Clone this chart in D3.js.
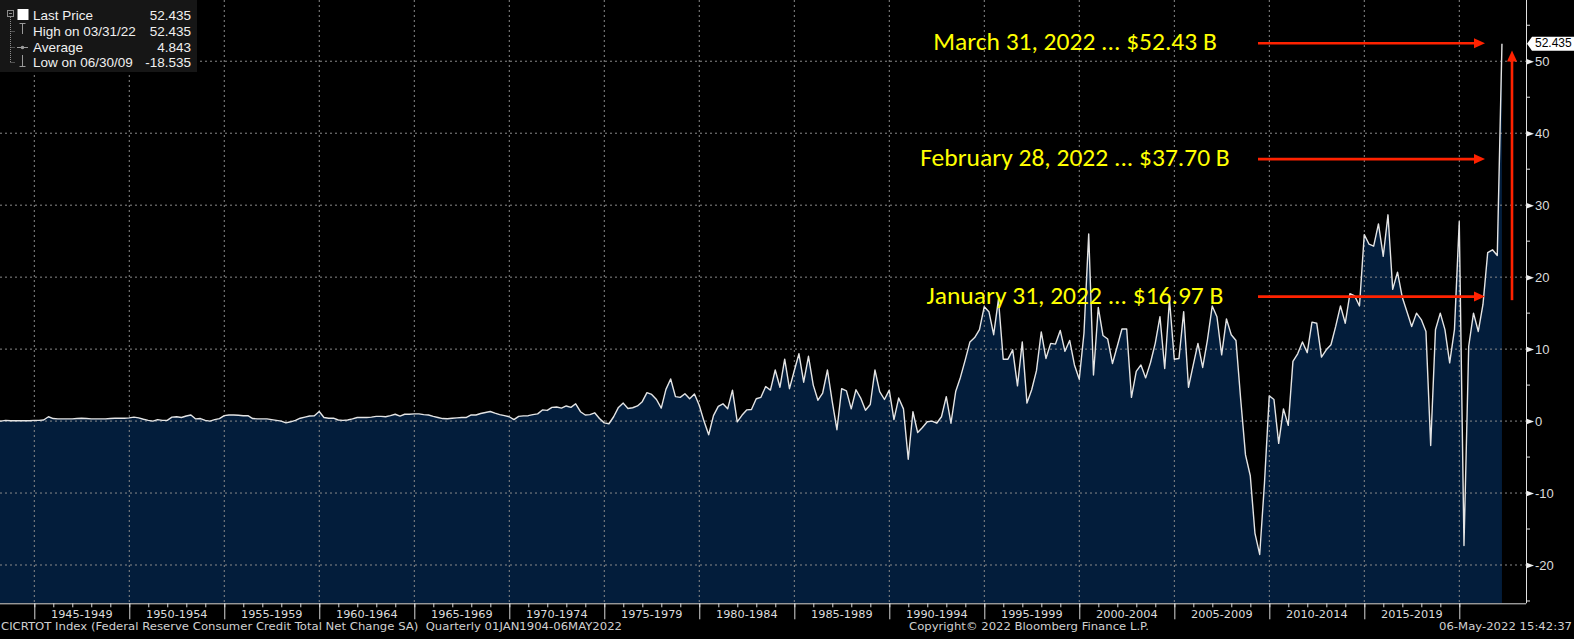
<!DOCTYPE html>
<html><head><meta charset="utf-8">
<script src="https://cdn.jsdelivr.net/npm/d3@7"></script>
<style>
html,body{margin:0;padding:0;background:#000;overflow:hidden}
svg{display:block}
.dv{font-family:"DejaVu Sans",Verdana,sans-serif}
.reg{font-family:"Liberation Sans",Arial,sans-serif}
</style></head><body>
<svg id="c" width="1574" height="639"></svg>
<script>
// ---------------- DATA (quarterly, value at quarter end, $ billions) ----------------
const firstYear = 1942, firstQuarter = 4;
const v1940s = [0.05,
  0.0,0.1,0.05,0.05, 0.05,0.05,0.05,0.1, 0.1,0.15,0.6,0.35, 0.3,0.3,0.3,0.3,
  0.35,0.4,0.35,0.3, 0.3,0.3,0.3,0.35, 0.4,0.4,0.4,0.45];
const v1950s = [0.55,0.45,0.25,0.1, 0.0,0.2,0.1,0.1, 0.55,0.6,0.5,0.7, 0.85,0.3,0.35,0.1,
  0.0,0.2,0.35,0.75, 0.85,0.85,0.8,0.75, 0.75,0.35,0.3,0.3, 0.3,0.2,0.1,0.0,
  -0.25,-0.1,0.1,0.4, 0.55,0.7,0.75,1.33];
const v1960s = [0.5,0.4,0.4,0.15, 0.1,0.15,0.3,0.5, 0.5,0.5,0.55,0.65, 0.65,0.6,0.75,0.95,
  0.7,0.95,0.95,1.0, 1.0,0.9,0.85,0.65, 0.5,0.35,0.32,0.4, 0.45,0.5,0.5,0.85,
  0.85,1.05,1.2,1.33, 1.1,0.9,0.75,0.6];
const v1970s = [0.2,0.65,0.72,0.75, 0.9,1.0,1.55,1.48, 1.9,1.95,1.8,2.1, 1.9,2.4,1.3,0.85,
  0.9,1.15,0.35,-0.25, -0.37,0.6,1.9,2.5, 1.75,1.85,2.1,2.7, 3.95,3.7,3.0,1.8,
  4.4,5.85,3.4,3.3, 3.8,3.1,3.75,2.2];
const v1980s = [0.0,-1.9,0.75,2.05, 2.4,1.7,4.3,-0.1, 0.8,1.55,1.6,3.1, 3.3,4.8,4.3,7.1,
  4.7,8.6,4.5,7.0, 9.35,5.4,9.0,5.0, 2.9,3.9,7.1,2.7, -1.2,4.5,4.2,1.7,
  4.35,3.2,1.5,2.3, 7.1,4.1,3.0,4.3];
const v1990s = [0.2,3.2,1.7,-5.3, 1.3,-1.6,-0.9,-0.1, 0.0,-0.3,0.6,3.4, -0.3,4.1,6.1,8.5,
  11.0,11.6,12.7,15.9, 15.2,12.0,16.9,8.6, 8.6,9.9,4.9,11.0, 2.5,4.35,7.0,12.4,
  8.7,10.8,10.7,12.6, 9.7,11.2,7.8,5.8];
const v2000s = [12.2,26.0,6.4,15.8, 11.9,11.4,8.0,10.4, 12.8,12.8,3.3,6.9, 7.8,6.0,8.1,10.8,
  14.5,7.3,16.85,8.6, 8.7,15.2,4.7,7.8, 10.8,7.45,11.3,16.0, 14.5,9.2,14.2,12.0,
  11.2,3.0,-4.7,-7.6, -15.6,-18.535,-8.6,3.5];
const v2010s = [3.0,-3.1,1.7,-0.6, 8.3,9.35,11.0,9.5, 13.75,13.6,8.9,9.9, 10.6,13.15,16.0,13.6,
  17.7,17.4,16.0,25.9, 24.6,24.3,27.4,22.9, 28.66,18.3,20.7,17.2, 15.2,13.15,15.0,14.1,
  12.45,-3.4,12.7,15.0, 12.7,8.1,12.7,27.7];
const v2020s = [-17.3,10.4,15.0,12.45, 16.2,23.4,23.8,23.0, 52.435];

const periodStarts = [1945,1950,1955,1960,1965,1970,1975,1980,1985,1990,1995,2000,2005,2010,2015];
const periodLabels = ["1945-1949","1950-1954","1955-1959","1960-1964","1965-1969","1970-1974","1975-1979",
  "1980-1984","1985-1989","1990-1994","1995-1999","2000-2004","2005-2009","2010-2014","2015-2019"];
const gridYears = [1945,1950,1955,1960,1965,1970,1975,1980,1985,1990,1995,2000,2005,2010,2015,2020];
const yMajorTicks = [-20,-10,0,10,20,30,40,50];
const yMinorTicks = [-25,-15,-5,5,15,25,35,45,55];

const legendLabels = ["Last Price","High on 03/31/22","Average","Low on 06/30/09"];
const legendValues = ["52.435","52.435","4.843","-18.535"];
const lastPriceLabel = "52.435";

const annotTexts = ["March 31, 2022 ... $52.43 B","February 28, 2022 ... $37.70 B","January 31, 2022 ... $16.97 B"];
const annotLevels = [52.5, 36.4, 17.3];      // arrow heights, data units
const riseArrow = [16.8, 51.5];              // vertical arrow from / to, data units

const footerLeft = "CICRTOT Index (Federal Reserve Consumer Credit Total Net Change SA)  Quarterly 01JAN1904-06MAY2022";
const footerMid = "Copyright\u00A9 2022 Bloomberg Finance L.P.";
const footerRight = "06-May-2022 15:42:37";

// ---------------- BUILD ----------------
const values = [].concat(v1940s,v1950s,v1960s,v1970s,v1980s,v1990s,v2000s,v2010s,v2020s);
const data = values.map((v,i)=>{
  const qi = (firstQuarter-1)+i;
  const yr = firstYear + Math.floor(qi/4), q = qi%4 + 1;
  return {date:new Date(Date.UTC(yr, q*3, 0)), value:v};
});

const svg = d3.select("#c");
const P = {left:0, right:1526, top:0, bottom:603.3};
const x = d3.scaleUtc().domain([new Date(Date.UTC(1945,0,1)), new Date(Date.UTC(2020,0,1))]).range([34.3,1459.3]);
const y = d3.scaleLinear().domain([-25.32,58.51]).range([P.bottom,P.top]);
const yr = v => x(new Date(Date.UTC(v,0,1)));

svg.append("rect").attr("width",1574).attr("height",639).attr("fill","#000");
svg.append("defs").append("clipPath").attr("id","plotclip").append("rect")
  .attr("x",P.left).attr("y",P.top).attr("width",P.right-P.left).attr("height",P.bottom-P.top);

const g = svg.append("g").attr("clip-path","url(#plotclip)");
g.append("path").datum(data)
  .attr("d", d3.area().x(d=>x(d.date)).y0(P.bottom).y1(d=>y(d.value)))
  .attr("fill","#031d3b");

// grid
g.selectAll(".hg").data(yMajorTicks).join("line")
  .attr("x1",P.left).attr("x2",P.right).attr("y1",d=>y(d)).attr("y2",d=>y(d))
  .attr("stroke","#8a8a8a").attr("stroke-width",1).attr("stroke-dasharray","2,3");
g.selectAll(".vg").data(gridYears).join("line")
  .attr("x1",d=>yr(d)).attr("x2",d=>yr(d)).attr("y1",P.top).attr("y2",P.bottom)
  .attr("stroke","#8a8a8a").attr("stroke-width",1).attr("stroke-dasharray","2,3");

g.append("path").datum(data)
  .attr("d", d3.line().x(d=>x(d.date)).y(d=>y(d.value)))
  .attr("fill","none").attr("stroke","#e4e4e4").attr("stroke-width",1.4).attr("stroke-linejoin","round");

// right axis
const ax = svg.append("g").attr("transform",`translate(${P.right},0)`)
  .call(d3.axisRight(y).tickValues(yMajorTicks).tickSize(0).tickPadding(9).tickFormat(d3.format("d")));
ax.select(".domain").remove();
ax.selectAll("text").attr("class","reg").attr("fill","#dcdcdc").style("font-size","13px").attr("dy","0.35em")
  .text(d=>String(d));
ax.selectAll(".tick").append("path").attr("d","M0,-3 L8,0 L0,3 Z").attr("fill","#eeeeee");
svg.append("line").attr("x1",P.right+0.5).attr("x2",P.right+0.5).attr("y1",0).attr("y2",P.bottom)
  .attr("stroke","#e0e0e0").attr("stroke-width",1);
svg.selectAll(".ymin").data(yMinorTicks).join("line")
  .attr("x1",P.right).attr("x2",P.right+4).attr("y1",d=>y(d)).attr("y2",d=>y(d))
  .attr("stroke","#e0e0e0");

// bottom axis
svg.append("line").attr("x1",P.left).attr("x2",P.right).attr("y1",P.bottom+0.5).attr("y2",P.bottom+0.5)
  .attr("stroke","#d8d8d8");
const xa = svg.append("g").attr("transform",`translate(0,${P.bottom})`)
  .call(d3.axisBottom(x).ticks(d3.utcYear.every(1)).tickSize(4).tickFormat(""));
xa.select(".domain").remove();
xa.selectAll(".tick line").attr("stroke","#d8d8d8");
svg.selectAll(".maj").data(gridYears).join("line")
  .attr("x1",d=>yr(d)+0.5).attr("x2",d=>yr(d)+0.5).attr("y1",P.bottom).attr("y2",P.bottom+16)
  .attr("stroke","#d8d8d8");
svg.selectAll(".plab").data(periodLabels).join("text")
  .attr("class","dv")
  .attr("x",(d,i)=>(yr(periodStarts[i])+yr(periodStarts[i]+5))/2)
  .attr("y",617.5).attr("text-anchor","middle")
  .attr("fill","#dcdcdc").style("font-size","11.3px").text(d=>d);

// footer
const ft = svg.append("g").attr("class","dv").style("font-size","11.3px").attr("fill","#d0d0d0");
ft.append("text").attr("x",1).attr("y",630).attr("xml:space","preserve").style("white-space","pre")
  .attr("textLength",621).attr("lengthAdjust","spacingAndGlyphs").text(footerLeft);
ft.append("text").attr("x",909).attr("y",630)
  .attr("textLength",240).attr("lengthAdjust","spacingAndGlyphs").text(footerMid);
ft.append("text").attr("x",1439).attr("y",630)
  .attr("textLength",133).attr("lengthAdjust","spacingAndGlyphs").text(footerRight);

// last price tag
const ly = y(values[values.length-1]);
svg.append("path").attr("d",`M${P.right+1},${ly} L${P.right+6},${ly-7} L1574,${ly-7} L1574,${ly+7} L${P.right+6},${ly+7} Z`)
  .attr("fill","#ffffff");
svg.append("text").attr("class","reg").attr("x",P.right+9).attr("y",ly).attr("dominant-baseline","middle")
  .style("font-size","12px").attr("fill","#000").text(lastPriceLabel);

// legend
const lg = svg.append("g");
lg.append("rect").attr("x",0).attr("y",0).attr("width",197).attr("height",72).attr("fill","#161616");
const rowY = [15,31,47,62];
lg.append("rect").attr("x",7.5).attr("y",10.5).attr("width",6).attr("height",6).attr("fill","none").attr("stroke","#8c8c8c");
lg.append("line").attr("x1",9).attr("x2",12).attr("y1",13.5).attr("y2",13.5).attr("stroke","#8c8c8c");
lg.append("line").attr("x1",10.5).attr("x2",10.5).attr("y1",17).attr("y2",rowY[3]).attr("stroke","#8c8c8c").attr("stroke-dasharray","1,1");
rowY.slice(1).forEach(ry=>lg.append("line").attr("x1",10.5).attr("x2",15).attr("y1",ry+0.5).attr("y2",ry+0.5)
  .attr("stroke","#8c8c8c").attr("stroke-dasharray","1,1"));
lg.append("rect").attr("x",17.5).attr("y",9).attr("width",11).attr("height",11).attr("fill","#ffffff");
lg.append("path").attr("d",`M19.5,${rowY[1]-7.5} H25.5 M22.5,${rowY[1]-7.5} V${rowY[1]+3}`).attr("stroke","#9a9a9a").attr("fill","none");
lg.append("path").attr("d",`M17,${rowY[2]+0.5} H28`).attr("stroke","#9a9a9a");
lg.append("circle").attr("cx",22.5).attr("cy",rowY[2]+0.5).attr("r",1.8).attr("fill","#9a9a9a");
lg.append("path").attr("d",`M19.5,${rowY[3]+4.5} H25.5 M22.5,${rowY[3]+4.5} V${rowY[3]-7}`).attr("stroke","#9a9a9a").attr("fill","none");
lg.selectAll(".ll").data(legendLabels).join("text").attr("class","reg")
  .attr("x",33).attr("y",(d,i)=>rowY[i]+5).style("font-size","13.5px").attr("fill","#f0f0f0").text(d=>d);
lg.selectAll(".lv").data(legendValues).join("text").attr("class","reg")
  .attr("x",191).attr("y",(d,i)=>rowY[i]+5).attr("text-anchor","end").style("font-size","13.5px").attr("fill","#f0f0f0").text(d=>d);

// annotations
const red = "#ff2200";
const an = svg.append("g");
annotTexts.forEach((t,i)=>{
  const ay = y(annotLevels[i]);
  an.append("text").attr("x",1075).attr("y",ay+1).attr("text-anchor","middle").attr("dominant-baseline","middle")
    .style("font-family","Carlito, Lato, 'Open Sans', sans-serif").style("font-size","25.5px").attr("fill","#ffff00").text(t);
  an.append("line").attr("x1",1258).attr("x2",1475).attr("y1",ay).attr("y2",ay).attr("stroke",red).attr("stroke-width",2.6);
  an.append("path").attr("d",`M1474,${ay-5} L1485,${ay} L1474,${ay+5} Z`).attr("fill",red);
});
const vy0 = y(riseArrow[0]), vy1 = y(riseArrow[1]);
an.append("line").attr("x1",1512).attr("x2",1512).attr("y1",vy0).attr("y2",vy1+10).attr("stroke",red).attr("stroke-width",2.6);
an.append("path").attr("d",`M1507,${vy1+11} L1512,${vy1} L1517,${vy1+11} Z`).attr("fill",red);
</script>
</body></html>
